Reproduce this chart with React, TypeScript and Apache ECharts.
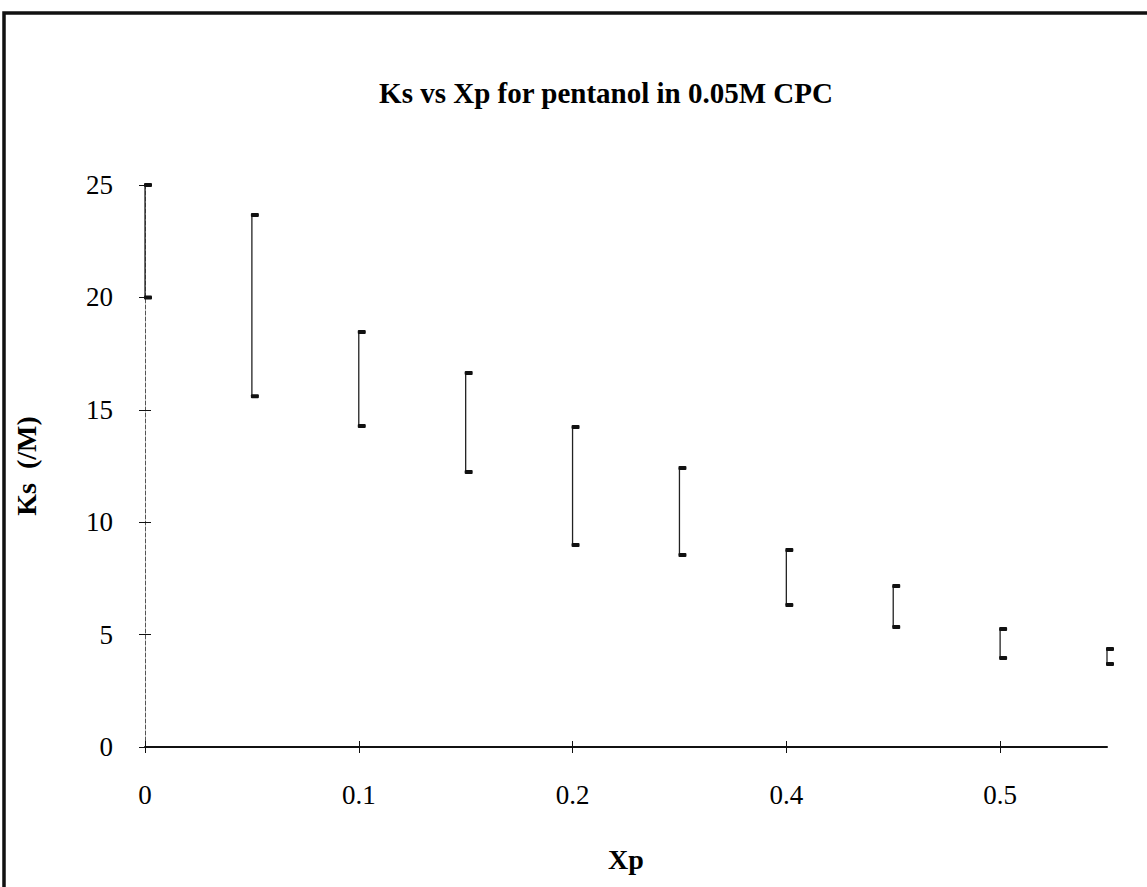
import React, { useEffect, useRef } from "react";
import * as echarts from "echarts";

const categories = ["0", "0.05", "0.1", "0.15", "0.2", "0.25", "0.4", "0.45", "0.5", "0.55"];
const lowValues = [20.0, 15.6, 14.28, 12.23, 8.99, 8.54, 6.32, 5.34, 3.96, 3.69];
const highValues = [25.0, 23.67, 18.46, 16.64, 14.24, 12.41, 8.76, 7.16, 5.25, 4.36];
const yTicks = { min: 0, max: 25, interval: 5 };

const FONT = "'Liberation Serif', 'Times New Roman', serif";

export default function App() {
  const ref = useRef<HTMLDivElement>(null);
  useEffect(() => {
    document.body.style.margin = "0";
    const chart = echarts.init(ref.current!, null, { renderer: "svg" });
    const data = categories.map((_, i) => [i, lowValues[i], highValues[i]]);
    chart.setOption({
      animation: false,
      backgroundColor: "#fff",
      grid: { left: 145, right: 40, top: 185, bottom: 140 },
      graphic: [
        {
          type: "rect",
          shape: { x: 4, y: 13, width: 1300, height: 1000 },
          style: { fill: "none", stroke: "#111", lineWidth: 3.5 },
          silent: true,
        },
        {
          type: "text",
          x: 606,
          y: 93,
          style: {
            text: "Ks vs Xp for pentanol in 0.05M CPC",
            font: `bold 29px ${FONT}`,
            fill: "#000",
            textAlign: "center",
            textVerticalAlign: "middle",
          },
        },
      ],
      xAxis: [
        {
          type: "category",
          data: categories,
          boundaryGap: false,
          name: "Xp",
          nameLocation: "middle",
          nameGap: 98,
          nameTextStyle: { fontFamily: FONT, fontWeight: "bold", fontSize: 28, color: "#000" },
          axisLine: { lineStyle: { color: "#111", width: 2 } },
          axisTick: { alignWithLabel: true, interval: 1, length: 6, lineStyle: { color: "#111" } },
          axisLabel: { interval: 1, margin: 34, fontFamily: FONT, fontSize: 27, color: "#000" },
        },
        {
          type: "category",
          data: categories,
          boundaryGap: false,
          position: "bottom",
          axisLine: { show: false },
          axisTick: { inside: true, interval: 1, length: 6, lineStyle: { color: "#111" } },
          axisLabel: { show: false },
        },
      ],
      yAxis: [
        {
          type: "value",
          min: yTicks.min,
          max: yTicks.max,
          interval: yTicks.interval,
          name: "Ks  (/M)",
          nameLocation: "middle",
          nameGap: 105,
          nameTextStyle: { fontFamily: FONT, fontWeight: "bold", fontSize: 28, color: "#000" },
          splitLine: { show: false },
          axisLine: { show: true, lineStyle: { color: "#555", width: 1, type: [4, 2] } },
          axisTick: { show: true, length: 6, lineStyle: { color: "#111" } },
          axisLabel: { margin: 32, fontFamily: FONT, fontSize: 27, color: "#000" },
        },
        {
          type: "value",
          min: yTicks.min,
          max: yTicks.max,
          interval: yTicks.interval,
          position: "left",
          splitLine: { show: false },
          axisLine: { show: false },
          axisTick: { show: true, inside: true, length: 6, lineStyle: { color: "#111" } },
          axisLabel: { show: false },
        },
      ],
      series: [
        {
          type: "custom",
          xAxisIndex: 0,
          yAxisIndex: 0,
          encode: { x: 0, y: [1, 2] },
          data,
          renderItem: (params: any, api: any) => {
            const i = api.value(0);
            const lo = api.coord([i, api.value(1)]);
            const hi = api.coord([i, api.value(2)]);
            const x = lo[0];
            return {
              type: "group",
              children: [
                {
                  type: "line",
                  shape: { x1: x, y1: hi[1], x2: x, y2: lo[1] },
                  style: { stroke: "#222", lineWidth: 1.3 },
                },
                {
                  type: "rect",
                  shape: { x: x - 1, y: hi[1] - 2, width: 8, height: 4, r: 1 },
                  style: { fill: "#111" },
                },
                {
                  type: "rect",
                  shape: { x: x - 1, y: lo[1] - 2, width: 8, height: 4, r: 1 },
                  style: { fill: "#111" },
                },
              ],
            };
          },
        },
      ],
    });
    return () => chart.dispose();
  }, []);
  return <div ref={ref} style={{ width: 1147, height: 887 }} />;
}
